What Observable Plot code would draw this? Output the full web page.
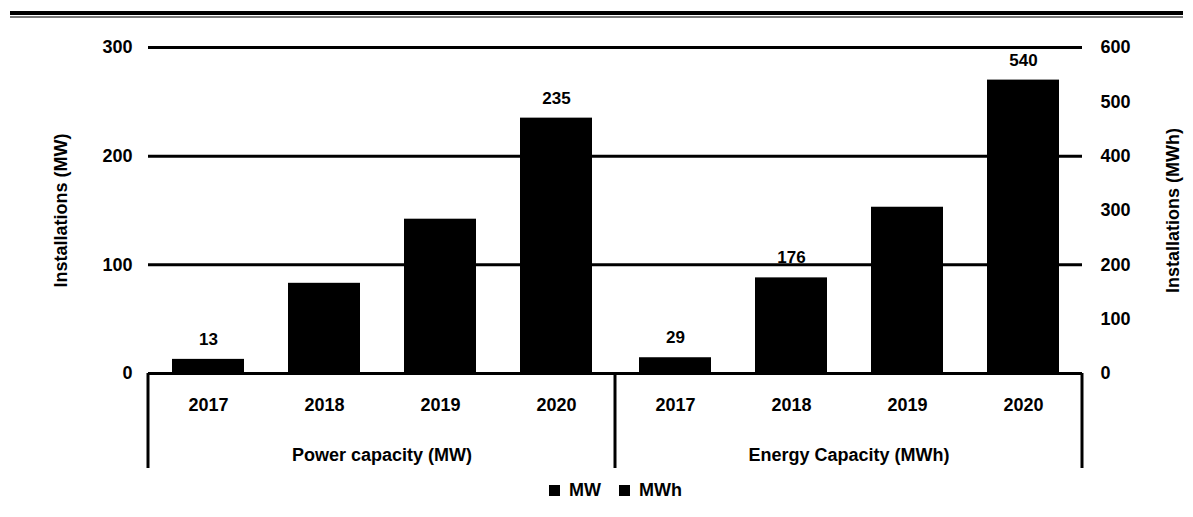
<!DOCTYPE html>
<html>
<head>
<meta charset="utf-8">
<script src="https://cdn.jsdelivr.net/npm/d3@7"></script>
<script src="https://cdn.jsdelivr.net/npm/@observablehq/plot@0.6"></script>
<style>
  html, body { margin: 0; padding: 0; background: #fff; }
  #wrap { position: relative; width: 1193px; height: 517px; overflow: hidden; }
  #topbar1 { position: absolute; left: 10px; right: 10px; top: 11px; height: 4px; background: #000; }
  #topbar2 { position: absolute; left: 10px; right: 10px; top: 16px; height: 2px; background: #777; }
  #chart { position: absolute; left: 0; top: 0; }
  #legend { position: absolute; left: 0; width: 1193px; top: 474px; display: flex; justify-content: center; padding-left: 56px; box-sizing: border-box; }
</style>
</head>
<body>
<div id="wrap">
  <div id="chart"></div>
  <div id="topbar1"></div>
  <div id="topbar2"></div>
  <div id="legend"></div>
</div>
<script>
const years = ["2017", "2018", "2019", "2020"];
const groups = ["Power capacity (MW)", "Energy Capacity (MWh)"];
const units = ["MW", "MWh"];
const powerMW = [13, 83, 142, 235];
const energyMWh = [29, 176, 306, 540];
const powerLabels = ["13", "", "", "235"];
const energyLabels = ["29", "176", "", "540"];
const leftTicks = [0, 100, 200, 300];
const rightTicks = [0, 100, 200, 300, 400, 500, 600];

// MWh plotted against the right axis, which is 2x the left axis
const rows = [
  ...years.map((year, i) => ({group: groups[0], unit: units[0], year, value: powerMW[i], scaled: powerMW[i], label: powerLabels[i]})),
  ...years.map((year, i) => ({group: groups[1], unit: units[1], year, value: energyMWh[i], scaled: energyMWh[i] / 2, label: energyLabels[i]}))
];

const font = "'Liberation Sans', Arial, sans-serif";

const chart = Plot.plot({
  width: 1193,
  height: 470,
  marginLeft: 148,
  marginRight: 111,
  marginTop: 47,
  marginBottom: 97,
  style: {fontFamily: font, fontWeight: "bold", fontSize: "18px", color: "#000", background: "transparent", overflow: "visible"},
  fx: {domain: groups, padding: 0, label: null},
  x: {domain: years, paddingInner: 0.38, paddingOuter: 0.19, label: null},
  y: {domain: [0, 300], label: null},
  color: {domain: units, range: ["#000", "#000"]},
  marks: [
    Plot.ruleY([100, 200, 300], {stroke: "#000", strokeWidth: 3}),
    Plot.barY(rows, {fx: "group", x: "year", y: "scaled", fill: "unit"}),
    Plot.ruleY([0], {stroke: "#000", strokeWidth: 3}),
    Plot.text(rows, {fx: "group", x: "year", y: "scaled", text: "label", dy: -20, lineAnchor: "middle", fontSize: 17, fontWeight: "bold", fill: "#000"}),
    Plot.axisX({anchor: "bottom", tickSize: 0, tickPadding: 25, fontSize: 18}),
    Plot.axisFx({anchor: "bottom", tickSize: 0, tickPadding: 75, fontSize: 18, label: null}),
    Plot.axisY({anchor: "left", ticks: leftTicks, tickSize: 0, tickPadding: 16, fontSize: 18,
      label: "Installations (MW)", labelAnchor: "center", labelArrow: "none", labelOffset: 94}),
    Plot.axisY({anchor: "right", ticks: rightTicks.map(d => d / 2), tickFormat: d => String(d * 2), tickSize: 0, tickPadding: 18, fontSize: 18,
      label: "Installations (MWh)", labelAnchor: "center", labelArrow: "none", labelOffset: 96})
  ]
});
document.getElementById("chart").appendChild(chart);

// group dividers, positioned from the fx and y scales
const fx = chart.scale("fx");
const y = chart.scale("y");
const y0 = y.apply(0);
const xs = [fx.apply(groups[0]), fx.apply(groups[1]), fx.apply(groups[1]) + fx.bandwidth];
d3.select(chart).append("g")
  .selectAll("line").data(xs).join("line")
  .attr("x1", d => d).attr("x2", d => d)
  .attr("y1", y0).attr("y2", y0 + 95)
  .attr("stroke", "#000").attr("stroke-width", 3);

const legend = chart.legend("color", {swatchSize: 11, style: {fontFamily: font, fontWeight: "bold", fontSize: "18px", color: "#000"}});
document.getElementById("legend").appendChild(legend);
</script>
</body>
</html>
